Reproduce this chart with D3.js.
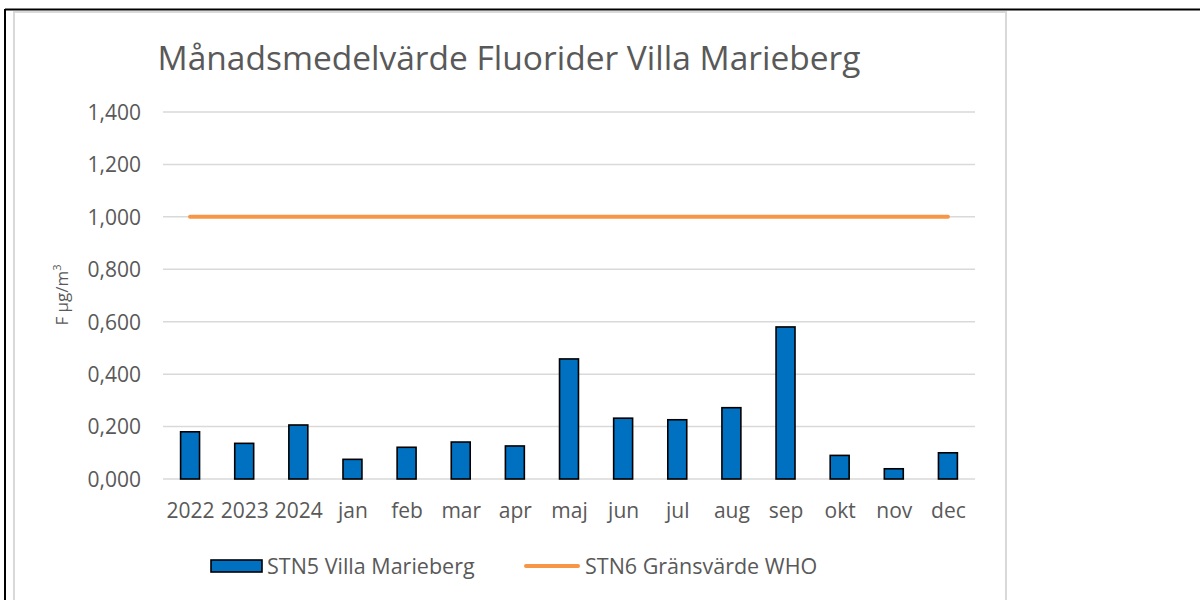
<!DOCTYPE html>
<html>
<head>
<meta charset="utf-8">
<script src="https://cdnjs.cloudflare.com/ajax/libs/d3/7.8.5/d3.min.js"></script>
<style>
body{margin:0;background:#fff;}
text{font-family:"Open Sans",Lato,sans-serif;fill:#595959;}
</style>
</head>
<body>
<svg id="chart" width="1200" height="600"></svg>
<script>
// categories and values
var categories=["2022","2023","2024","jan","feb","mar","apr","maj","jun","jul","aug","sep","okt","nov","dec"];
var stn5Values=[0.180,0.136,0.206,0.075,0.121,0.141,0.126,0.458,0.232,0.226,0.272,0.580,0.090,0.039,0.100];
var whoLimit=[1,1,1,1,1,1,1,1,1,1,1,1,1,1,1];
var yTicks=[0,0.2,0.4,0.6,0.8,1.0,1.2,1.4];
var seriesNames=["STN5 Villa Marieberg","STN6 Gränsvärde WHO"];

var svg=d3.select("#chart");

// outer frame (black) and chart area (grey)
svg.append("line").attr("x1",5).attr("y1",9.5).attr("x2",1200).attr("y2",9.5).attr("stroke","#000").attr("stroke-width",2);
svg.append("line").attr("x1",5).attr("y1",9).attr("x2",5).attr("y2",600).attr("stroke","#000").attr("stroke-width",2);
svg.append("rect").attr("x",14).attr("y",12).attr("width",992).attr("height",600)
	.attr("fill","#fff").attr("stroke","#d9d9d9").attr("stroke-width",2);

var plotLeft=163,plotRight=975,plotTop=112,plotBottom=479;

var x=d3.scaleBand().domain(categories).range([plotLeft,plotRight]).paddingInner(0.65).paddingOuter(0.325);
var xc=d3.scalePoint().domain(categories).range([plotLeft,plotRight]).padding(0.5);
var y=d3.scaleLinear().domain([0,1.4]).range([plotBottom,plotTop]);

// excel shows "1,400" / "0,200"
var fmt=function(v){return d3.format(".3f")(v).replace(".",",");};

// gridlines
svg.append("g").selectAll("line").data(yTicks).enter().append("line")
	.attr("x1",plotLeft).attr("x2",plotRight)
	.attr("y1",function(d){return y(d);}).attr("y2",function(d){return y(d);})
	.attr("stroke","#d9d9d9").attr("stroke-width",1.5);

// y axis labels
var yAxis=d3.axisLeft(y).tickValues(yTicks).tickFormat(fmt).tickSize(0).tickPadding(0);
var yg=svg.append("g").attr("transform","translate(141,0)").call(yAxis);
yg.select(".domain").remove();
yg.selectAll("text").style("font-size","21px").attr("fill","#595959").attr("dy","0.35em");

// x axis labels
var xAxis=d3.axisBottom(xc).tickSize(0).tickPadding(0);
var xg=svg.append("g").attr("transform","translate(0,503)").call(xAxis);
xg.select(".domain").remove();
xg.selectAll("text").style("font-size","21px").attr("fill","#595959").attr("dy","0.71em");

// bars
svg.append("g").selectAll("rect").data(stn5Values).enter().append("rect")
	.attr("x",function(d,i){return x(categories[i]);})
	.attr("y",function(d){return y(d);})
	.attr("width",x.bandwidth())
	.attr("height",function(d){return plotBottom-y(d);})
	.attr("fill","#0070c0").attr("stroke","#000").attr("stroke-width",1.6);

// WHO limit line
var line=d3.line().x(function(d,i){return xc(categories[i]);}).y(function(d){return y(d);});
svg.append("path").datum(whoLimit).attr("d",line)
	.attr("fill","none").attr("stroke","#f79646").attr("stroke-width",4).attr("stroke-linecap","round");

// title
svg.append("text").attr("x",509).attr("y",70).attr("text-anchor","middle")
	.style("font-size","33.5px").text("Månadsmedelvärde Fluorider Villa Marieberg");

// y axis title
svg.append("text").attr("transform","translate(68,295) rotate(-90)").attr("text-anchor","middle")
	.style("font-size","17px").html("F µg/m<tspan dy='-7' style='font-size:11px'>3</tspan>");

// legend
var lg=svg.append("g");
lg.append("rect").attr("x",211).attr("y",560).attr("width",51).attr("height",12)
	.attr("fill","#0070c0").attr("stroke","#000").attr("stroke-width",1.6);
lg.append("text").attr("x",267).attr("y",574).style("font-size","21.5px").text(seriesNames[0]);
lg.append("line").attr("x1",526).attr("x2",578).attr("y1",566).attr("y2",566)
	.attr("stroke","#f79646").attr("stroke-width",4).attr("stroke-linecap","round");
lg.append("text").attr("x",585).attr("y",574).style("font-size","21.5px").text(seriesNames[1]);
</script>
</body>
</html>
